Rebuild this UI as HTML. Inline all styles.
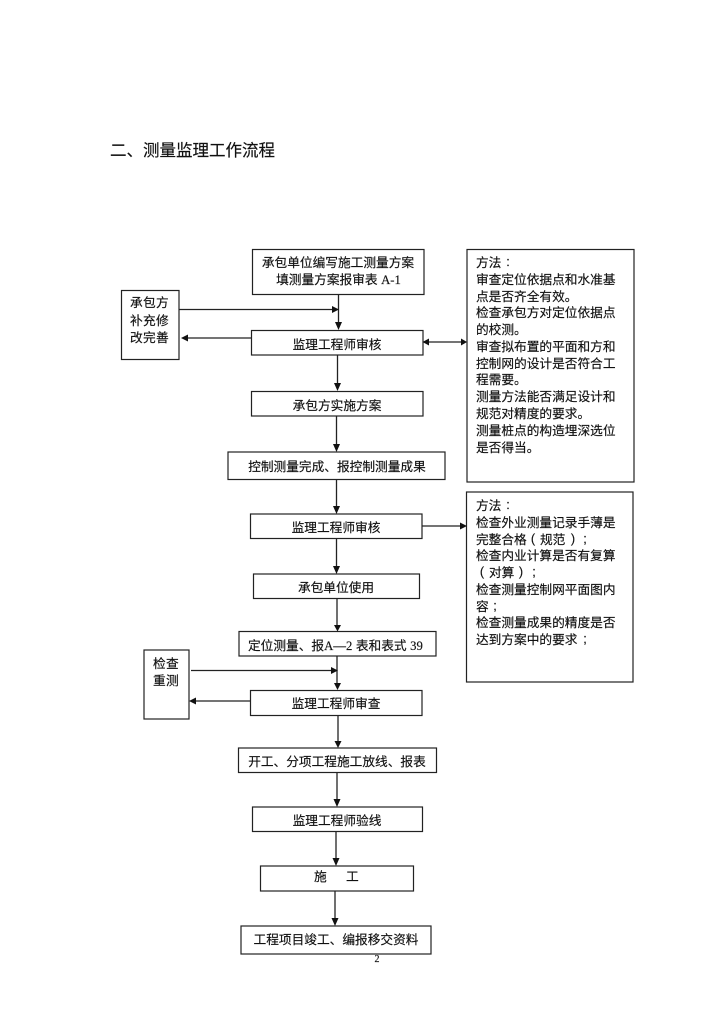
<!DOCTYPE html>
<html><head><meta charset="utf-8"><style>
html,body{margin:0;padding:0;background:#fff;width:724px;height:1024px;overflow:hidden}
svg{display:block}
text{font-family:"Liberation Sans","WenQuanYi Zen Hei","Noto Sans CJK SC",sans-serif;font-size:12.7px;fill:#111;stroke:#111;stroke-width:.16px}
.c{text-anchor:middle}
.s{font-family:"Liberation Serif","WenQuanYi Zen Hei","Noto Sans CJK SC",serif}
rect{fill:none;stroke:#222;stroke-width:1.2}
line{stroke:#222;stroke-width:1.3}
polygon{fill:#111}
</style></head><body>
<svg width="724" height="1024" viewBox="0 0 724 1024" xmlns="http://www.w3.org/2000/svg">
<text x="110" y="156" style="font-size:16.5px">二、测量监理工作流程</text>

<rect x="252.5" y="249.5" width="171.5" height="45"/>
<rect x="121.5" y="290.5" width="57.5" height="69"/>
<rect x="251.5" y="330.5" width="171.5" height="24.5"/>
<rect x="251.5" y="391.5" width="171.5" height="24.5"/>
<rect x="228" y="452" width="217" height="27.5"/>
<rect x="250.5" y="514" width="171.5" height="24.5"/>
<rect x="253.5" y="574" width="166" height="24.5"/>
<rect x="239" y="631.5" width="197" height="24.5"/>
<rect x="144" y="650" width="45" height="69"/>
<rect x="250.5" y="690.5" width="171.5" height="25"/>
<rect x="238.5" y="748" width="198" height="24.5"/>
<rect x="252.5" y="807" width="170" height="24.5"/>
<rect x="260.5" y="866" width="153" height="25"/>
<rect x="241" y="926" width="190" height="28"/>
<rect x="467" y="249.5" width="167" height="232.5"/>
<rect x="466.5" y="492" width="166.5" height="190"/>

<line x1="338.5" y1="294" x2="338.5" y2="325"/><polygon points="335,322 342,322 338.5,330"/>
<line x1="179" y1="309.5" x2="334" y2="309.5"/><polygon points="332,306 332,313 339,309.5"/>
<line x1="251" y1="338" x2="186" y2="338"/><polygon points="188,334.500 188,341.500 181,338"/>
<line x1="428" y1="342" x2="462" y2="342"/><polygon points="429,338.500 429,345.500 422.500,342"/><polygon points="461,338.500 461,345.500 467,342"/>
<line x1="337.500" y1="355" x2="337.500" y2="386"/><polygon points="334,383 341,383 337.500,391"/>
<line x1="336.500" y1="416" x2="336.500" y2="447"/><polygon points="333,444 340,444 336.500,452"/>
<line x1="336.500" y1="480" x2="336.500" y2="509"/><polygon points="333,506 340,506 336.500,514"/>
<line x1="422" y1="526" x2="462" y2="526"/><polygon points="460,522.500 460,529.500 467,526"/>
<line x1="336.500" y1="538" x2="336.500" y2="569"/><polygon points="333,566 340,566 336.500,574"/>
<line x1="337" y1="598" x2="337" y2="627"/><polygon points="334,625 341,625 337.500,631.500"/>
<line x1="337" y1="656" x2="337" y2="686"/><polygon points="334,683 341,683 337.500,690"/>
<line x1="191" y1="670.500" x2="334" y2="670.500"/><polygon points="331,667 331,674 338,670.500"/>
<line x1="250" y1="701" x2="194" y2="701"/><polygon points="196,697.500 196,704.500 189,701"/>
<line x1="338" y1="715" x2="338" y2="743"/><polygon points="334.500,741 341.500,741 338,748"/>
<line x1="337" y1="772" x2="337" y2="802"/><polygon points="333.500,799 340.500,799 337,807"/>
<line x1="336" y1="831" x2="336" y2="861"/><polygon points="332.500,858 339.500,858 336,866"/>
<line x1="335" y1="891" x2="335" y2="921"/><polygon points="331.500,918 338.500,918 335,926"/>

<text class="c" x="338" y="267">承包单位编写施工测量方案</text>
<text class="c" x="338.500" y="284">填测量方案报审表 <tspan class="s">A-1</tspan></text>
<text x="130" y="307">承</text><text x="143" y="307">包</text><text x="156" y="307">方</text>
<text x="130" y="325">补</text><text x="143" y="325">充</text><text x="156" y="325">修</text>
<text x="130" y="342">改</text><text x="143" y="342">完</text><text x="156" y="342">善</text>
<text class="c" x="337" y="349">监理工程师审核</text>
<text class="c" x="337" y="410">承包方实施方案</text>
<text class="c" x="337" y="471">控制测量完成、报控制测量成果</text>
<text class="c" x="336" y="532">监理工程师审核</text>
<text class="c" x="336" y="592">承包单位使用</text>
<text x="248" y="650">定位测量、报<tspan class="s">A—2</tspan> 表和表式 <tspan class="s">39</tspan></text>
<text x="153" y="668">检</text><text x="166" y="668">查</text>
<text x="153" y="685">重</text><text x="166" y="685">测</text>
<text class="c" x="336" y="708">监理工程师审查</text>
<text class="c" x="337" y="766">开工、分项工程施工放线、报表</text>
<text class="c" x="337" y="825">监理工程师验线</text>
<text x="314" y="881">施</text><text x="346" y="881">工</text>
<text class="c" x="336" y="944">工程项目竣工、编报移交资料</text>
<text class="s c" x="377" y="962" style="font-size:10px">2</text>

<text x="476" y="267">方法</text><text class="c" x="508" y="266">:</text>
<text x="476" y="284">审查定位依据点和水准基</text>
<text x="476" y="301">点是否齐全有效。</text>
<text x="476" y="317">检查承包方对定位依据点</text>
<text x="476" y="334">的校测。</text>
<text x="476" y="351">审查拟布置的平面和方和</text>
<text x="476" y="368">控制网的设计是否符合工</text>
<text x="476" y="384">程需要。</text>
<text x="476" y="401">测量方法能否满足设计和</text>
<text x="476" y="418">规范对精度的要求。</text>
<text x="476" y="435">测量桩点的构造埋深选位</text>
<text x="476" y="452">是否得当。</text>

<text x="476" y="510">方法</text><text class="c" x="508" y="509">:</text>
<text x="476" y="527">检查外业测量记录手薄是</text>
<text x="476" y="544">完整合格</text><text class="c" x="533" y="543">(</text><text x="540" y="544">规范</text><text class="c" x="573" y="543">)</text><text class="c" x="585" y="543">;</text>
<text x="476" y="560">检查内业计算是否有复算</text>
<text class="c" x="482" y="576">(</text><text x="489" y="577">对算</text><text class="c" x="521" y="576">)</text><text class="c" x="534" y="576">;</text>
<text x="476" y="594">检查测量控制网平面图内</text>
<text x="476" y="611">容</text><text class="c" x="495" y="610">;</text>
<text x="476" y="627">检查测量成果的精度是否</text>
<text x="476" y="644">达到方案中的要求</text><text class="c" x="585" y="643">;</text>
</svg>
</body></html>
